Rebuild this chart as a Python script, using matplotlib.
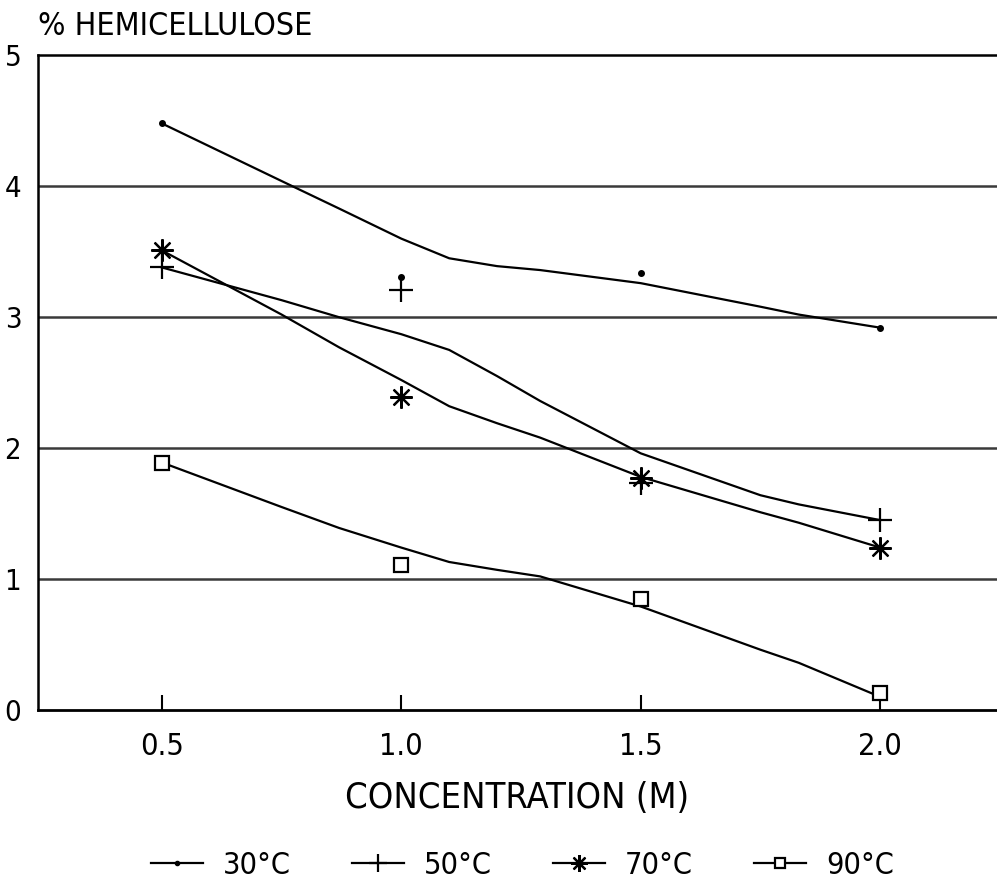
"""
% hemicellulose vs. acid concentration at four temperatures,
with the fitted curve of each series drawn through the measured points.
"""

import matplotlib

matplotlib.use("Agg")
import matplotlib.pyplot as plt
from matplotlib.lines import Line2D

plt.rcParams["font.family"] = ["DejaVu Sans"]
plt.rcParams["font.stretch"] = "condensed"

# measured points
conc = [0.5, 1.0, 1.5, 2.0]
hemi_30 = [4.48, 3.31, 3.34, 2.92]
hemi_50 = [3.38, 3.21, 1.73, 1.45]
hemi_70 = [3.51, 2.39, 1.77, 1.24]
hemi_90 = [1.89, 1.11, 0.85, 0.13]

# fitted curves
fit_x = [0.5, 0.75, 0.87, 1.0, 1.1, 1.2, 1.29, 1.5, 1.75, 1.83, 2.0]
fit_30 = [4.48, 4.04, 3.83, 3.60, 3.45, 3.39, 3.36, 3.26, 3.08, 3.02, 2.92]
fit_50 = [3.38, 3.13, 3.00, 2.87, 2.75, 2.55, 2.36, 1.96, 1.64, 1.57, 1.45]
fit_70 = [3.51, 3.02, 2.77, 2.52, 2.32, 2.19, 2.08, 1.78, 1.51, 1.43, 1.24]
fit_90 = [1.89, 1.55, 1.39, 1.24, 1.13, 1.07, 1.02, 0.79, 0.46, 0.36, 0.10]

series = [
    ("30°C", hemi_30, fit_30, dict(marker="o", markersize=4, markerfacecolor="black")),
    ("50°C", hemi_50, fit_50, dict(marker="+", markersize=17, markeredgewidth=1.6)),
    ("70°C", hemi_70, fit_70, dict(marker=(8, 2, 0), markersize=16, markeredgewidth=1.6)),
    ("90°C", hemi_90, fit_90, dict(marker="s", markersize=10, markerfacecolor="white",
                                   markeredgewidth=1.6)),
]

fig = plt.figure(figsize=(9.97, 8.93), dpi=100)
ax = fig.add_axes([0.038, 0.205, 0.962, 0.733])

for y in [1, 2, 3, 4]:
    ax.axhline(y, color="#3a3a3a", linewidth=1.8, zorder=1)

handles = []
for label, pts, fit, mk in series:
    ax.plot(fit_x, fit, color="black", linewidth=1.6, zorder=2)
    ax.plot(conc, pts, linestyle="none", color="black", zorder=3, **mk)
    handles.append(Line2D([], [], color="black", linewidth=1.6, label=label, **mk))

ax.set_xlim(0.241, 2.244)
ax.set_ylim(0, 5)
ax.set_xticks(conc)
ax.set_xticklabels(["0.5", "1.0", "1.5", "2.0"])
ax.set_yticks([0, 1, 2, 3, 4, 5])
ax.tick_params(axis="x", direction="in", length=11, width=1.5, labelsize=22, pad=16)
ax.tick_params(axis="y", length=0, labelsize=21, pad=12)

ax.spines["right"].set_visible(False)
ax.spines["top"].set_linewidth(1.8)
ax.spines["left"].set_linewidth(1.8)
ax.spines["bottom"].set_linewidth(2.0)

ax.set_xlabel("CONCENTRATION (M)", fontsize=26, labelpad=14)
fig.text(0.038, 0.953, "% HEMICELLULOSE", fontsize=23, ha="left", va="bottom")

fig.legend(handles=handles, loc="lower center", bbox_to_anchor=(0.524, -0.016), ncol=4,
           frameon=False, numpoints=1, fontsize=22, handlelength=1.7, markerscale=0.75,
           handletextpad=0.65, columnspacing=2.0)

fig.savefig("out.png", dpi=100, facecolor="white")
